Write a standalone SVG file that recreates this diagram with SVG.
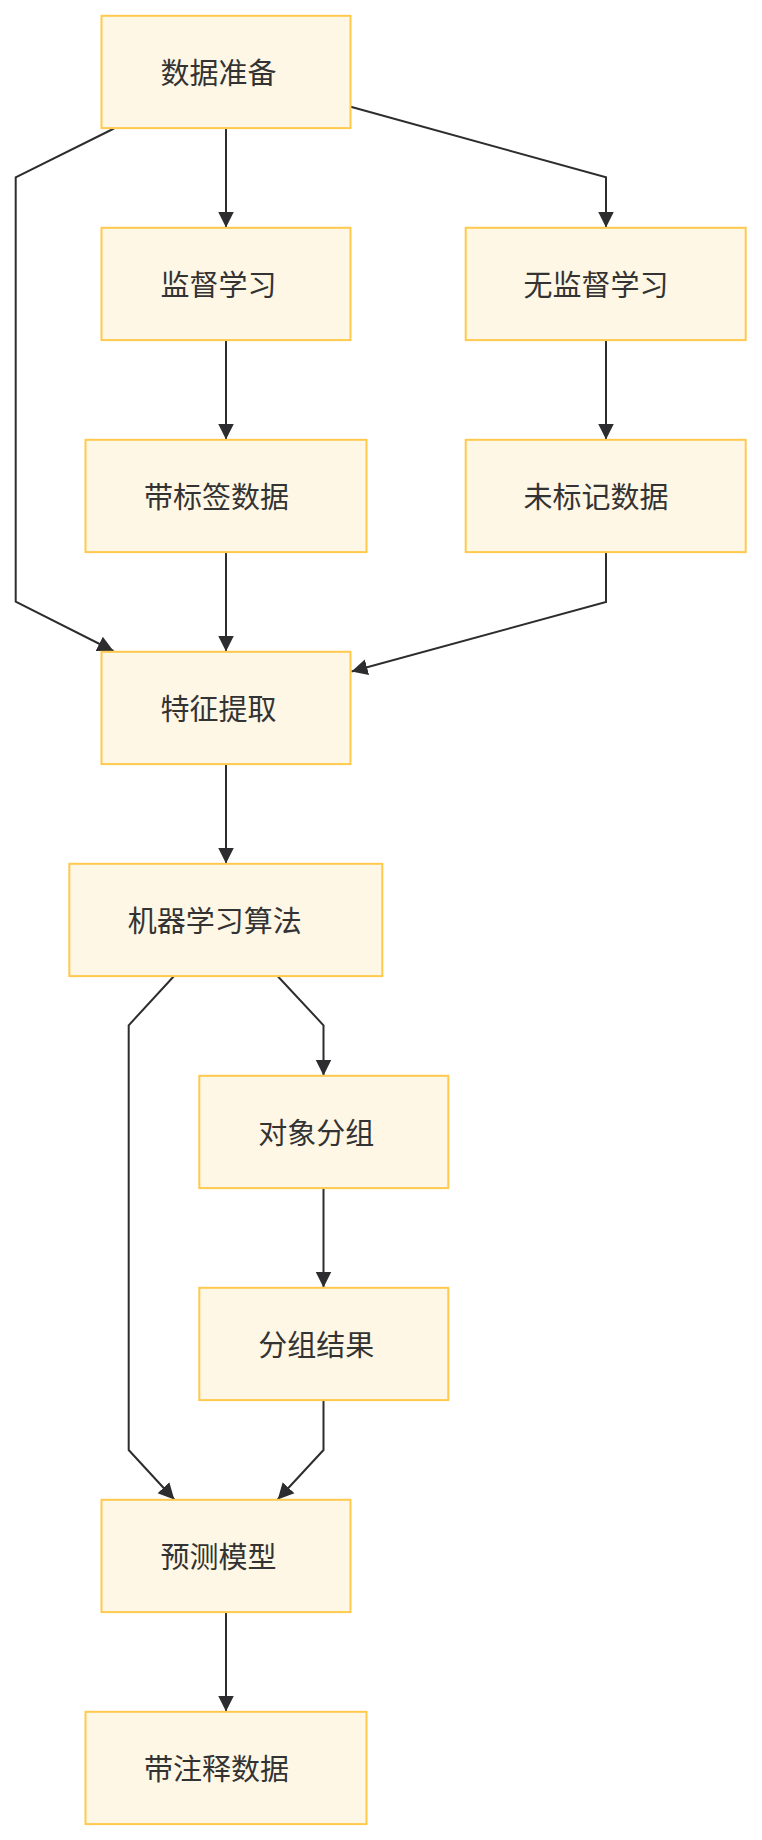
<svg xmlns="http://www.w3.org/2000/svg" width="762" height="1840" viewBox="0 0 762 1840">
<style>
.node rect{fill:#fff7e6;stroke:#ffc94d;stroke-width:2}
.node text{font-family:"Noto Sans CJK SC","Noto Sans",sans-serif;font-size:29px;fill:#333333;text-anchor:middle;dominant-baseline:central}
.edges path{fill:none;stroke:#2d2d30;stroke-width:2;marker-end:url(#arrow)}
</style>
<defs>
<marker id="arrow" markerUnits="userSpaceOnUse" viewBox="0 0 10 10" refX="10" refY="5" markerWidth="16" markerHeight="17" orient="auto">
<path d="M0,0 L10,5 L0,10 z" fill="#2d2d30"/>
</marker>
</defs>
<rect width="762" height="1840" fill="#ffffff"/>
<g class="edges">
<path d="M114,128.5 L15.7,177.3 L15.7,601.7 L113.5,651"/>
<path d="M226,128 V227.5"/>
<path d="M350.7,106.7 L606,177.3 V227.5"/>
<path d="M226,340 V439.5"/>
<path d="M606,340 V439.5"/>
<path d="M226,551.7 V651.5"/>
<path d="M606,551.7 V602 L351.5,671.5"/>
<path d="M226,763.7 V863.5"/>
<path d="M277.3,975.7 L323.5,1025.3 V1075.5"/>
<path d="M174.3,975.7 L128.7,1025.3 V1450 L174.3,1499.5"/>
<path d="M323.5,1187.7 V1287.5"/>
<path d="M323.5,1400 V1450 L277.7,1499.5"/>
<path d="M226,1611.7 V1711.5"/>
</g>
<g id="n1" class="node"><rect x="101.5" y="15.8" width="249" height="112.3"/><text x="218.5" y="70.5">数据准备</text></g>
<g id="n2" class="node"><rect x="101.5" y="227.8" width="249" height="112.3"/><text x="218.5" y="282.5">监督学习</text></g>
<g id="n3" class="node"><rect x="465.7" y="227.8" width="280" height="112.3"/><text x="596" y="282.5">无监督学习</text></g>
<g id="n4" class="node"><rect x="85.5" y="439.8" width="281" height="112.3"/><text x="216.5" y="494.5">带标签数据</text></g>
<g id="n5" class="node"><rect x="465.7" y="439.8" width="280" height="112.3"/><text x="596" y="494.5">未标记数据</text></g>
<g id="n6" class="node"><rect x="101.5" y="651.8" width="249" height="112.3"/><text x="218.5" y="706.5">特征提取</text></g>
<g id="n7" class="node"><rect x="69.3" y="863.8" width="313" height="112.3"/><text x="214.8" y="918.5">机器学习算法</text></g>
<g id="n8" class="node"><rect x="199.3" y="1075.8" width="249" height="112.3"/><text x="316.3" y="1130.5">对象分组</text></g>
<g id="n9" class="node"><rect x="199.3" y="1287.8" width="249" height="112.3"/><text x="316.3" y="1342.5">分组结果</text></g>
<g id="n10" class="node"><rect x="101.5" y="1499.8" width="249" height="112.3"/><text x="218.5" y="1554.5">预测模型</text></g>
<g id="n11" class="node"><rect x="85.5" y="1711.8" width="281" height="112.3"/><text x="216.5" y="1766.5">带注释数据</text></g>
</svg>
